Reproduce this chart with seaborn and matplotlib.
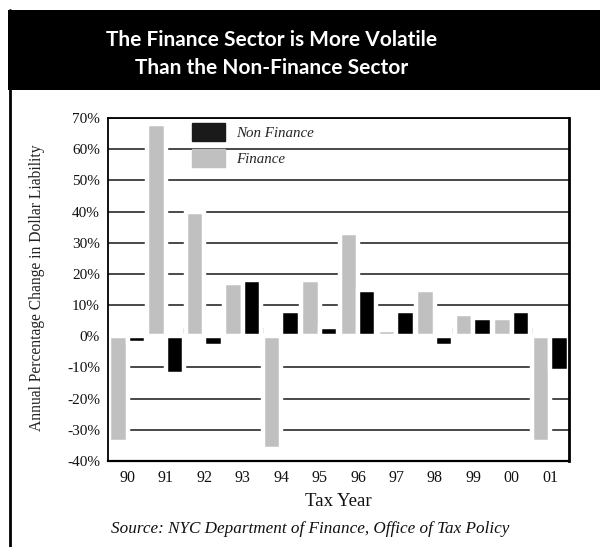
import matplotlib
matplotlib.use("Agg")
import matplotlib.pyplot as plt
import seaborn as sns
import pandas as pd
from matplotlib.patches import Patch, Rectangle
from matplotlib.lines import Line2D

# ---- data ----
years = ["90", "91", "92", "93", "94", "95", "96", "97", "98", "99", "00", "01"]
finance = [-34, 68, 40, 17, -36, 18, 33, 2, 15, 7, 6, -34]
non_finance = [-2, -12, -3, 18, 8, 3, 15, 8, -3, 6, 8, -11]
y_ticks = [-40, -30, -20, -10, 0, 10, 20, 30, 40, 50, 60, 70]
y_tick_labels = ["-40%", "-30%", "-20%", "-10%", "0%", "10%", "20%", "30%",
                 "40%", "50%", "60%", "70%"]

df = pd.DataFrame({
    "year": years * 2,
    "value": finance + non_finance,
    "sector": ["Finance"] * len(years) + ["Non Finance"] * len(years),
})

GRAY = "#c0c0c0"
BLACK = "#000000"
SERIF = ["Liberation Serif", "DejaVu Serif"]

sns.set_theme(style="white")
plt.rcParams["font.family"] = SERIF

fig = plt.figure(figsize=(6.0, 5.47), dpi=100)
ax = fig.add_axes([108.3 / 600, 1 - 461 / 547, 461 / 600, 343 / 547])

sns.barplot(data=df, x="year", y="value", hue="sector", order=years,
            hue_order=["Finance", "Non Finance"], palette=[GRAY, BLACK],
            width=0.96, edgecolor="white", linewidth=3.2, errorbar=None,
            legend=False, ax=ax, zorder=2)

ax.set_xlim(-0.5, len(years) - 0.5)
ax.set_ylim(-40, 70)
ax.set_yticks(y_ticks)
ax.set_yticklabels(y_tick_labels)

ax.set_axisbelow(True)
ax.yaxis.grid(True, color="#2a2a2a", linewidth=1.2)
ax.xaxis.grid(False)
ax.axhline(0, color="black", linewidth=2.0, zorder=1)
# small marks on the zero line at category boundaries
ax.vlines([i + 0.5 for i in range(len(years) - 1)], 0, 2.6,
          color="black", linewidth=1.6, zorder=1)

for s in ax.spines.values():
    s.set_visible(True)
    s.set_color("black")
    s.set_linewidth(1.3)
ax.spines["right"].set_linewidth(2.0)
ax.spines["bottom"].set_linewidth(1.6)

ax.tick_params(axis="both", length=0, colors="#111111")
ax.tick_params(axis="y", pad=6, labelsize=11)
ax.tick_params(axis="x", pad=6.5, labelsize=11.5)
ax.set_ylabel("")
ax.set_xlabel("Tax Year", fontsize=13.5, labelpad=5, color="#111111")

handles = [Patch(facecolor="#1a1a1a", edgecolor="#1a1a1a"),
           Patch(facecolor=GRAY, edgecolor=GRAY)]
ax.legend(handles, ["Non Finance", "Finance"], loc="upper left",
          bbox_to_anchor=(0.181, 0.986), frameon=False,
          prop={"family": SERIF, "style": "italic", "size": 10.8},
          handlelength=2.2, handleheight=1.45, borderaxespad=0, borderpad=0,
          handletextpad=0.75, labelspacing=0.55)

fig.text(37 / 600, 1 - 288 / 547, "Annual Percentage Change in Dollar Liability",
         rotation=90, ha="center", va="center", fontsize=11.2, color="#222222")

fig.text(310 / 600, 1 - 529 / 547,
         "Source: NYC Department of Finance, Office of Tax Policy",
         ha="center", va="center", fontsize=12.3, style="italic", color="#111111")

# title band
fig.patches.append(Rectangle((8 / 600, 1 - 90 / 547), 1 - 8 / 600, 80 / 547,
                             transform=fig.transFigure, facecolor="black",
                             edgecolor="none", zorder=0))
fig.lines.append(Line2D([10 / 600, 10 / 600], [0, 1 - 10 / 547],
                        transform=fig.transFigure, color="black", linewidth=2))
fig.text(272 / 600, 1 - 40 / 547, "The Finance Sector is More Volatile",
         ha="center", va="center", fontsize=15, fontweight="bold",
         color="white", family=["Lato", "DejaVu Sans"])
fig.text(272 / 600, 1 - 68 / 547, "Than the Non-Finance Sector",
         ha="center", va="center", fontsize=15, fontweight="bold",
         color="white", family=["Lato", "DejaVu Sans"])

fig.savefig("out.png", dpi=100, facecolor="white")
